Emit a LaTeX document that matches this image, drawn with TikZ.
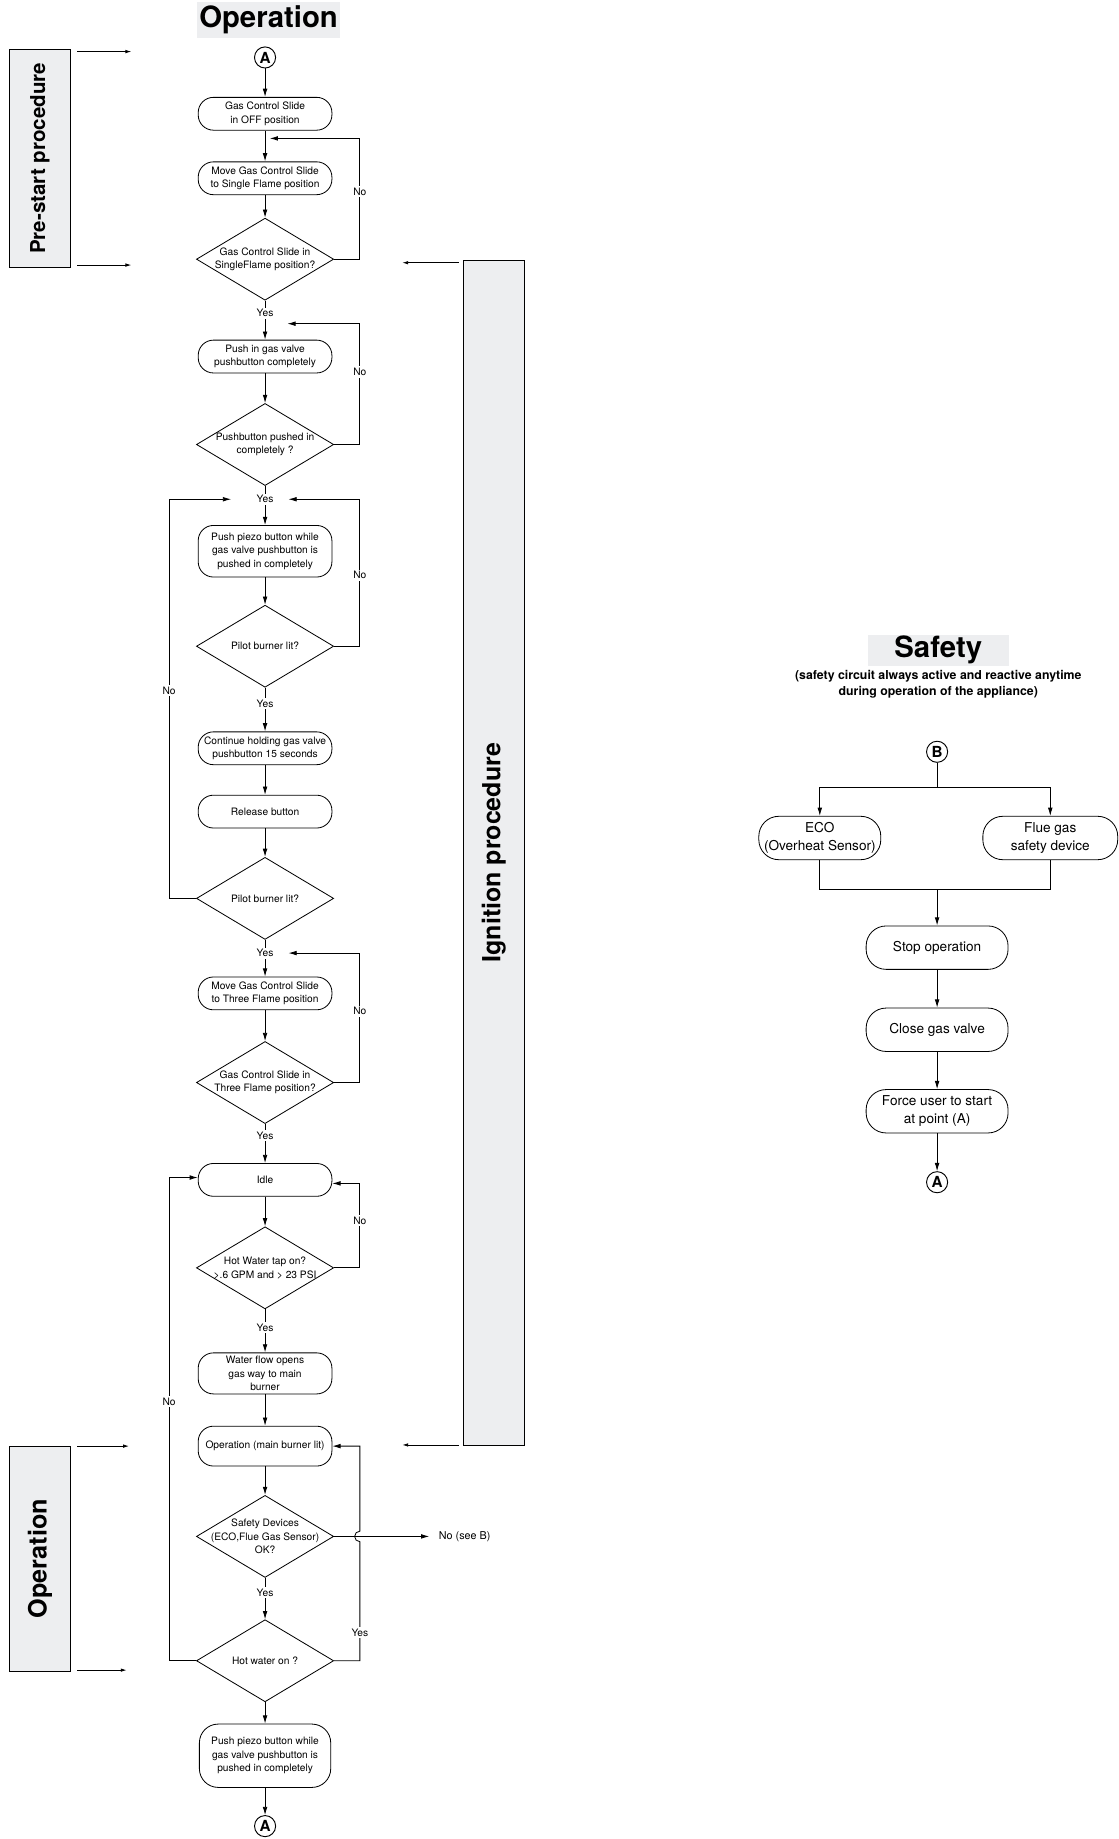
\documentclass[tikz,border=0pt]{standalone}
\usepackage{fontspec}
\setmainfont{TeX Gyre Heros}
\usetikzlibrary{shapes.geometric}
\usetikzlibrary{arrows.meta}
\usetikzlibrary{calc}
\definecolor{panel-grey}{HTML}{EDEEF0}
\colorlet{phase}{panel-grey}
\newcommand{\flowfont}{\fontsize{8.7}{11.5}\selectfont}
\newcommand{\safefont}{\fontsize{11.6}{15}\selectfont}
\tikzset{
  >={Latex[length=7pt,width=4pt]},
  flow/.style={line width=0.7pt},
  stepbox/.style={draw,line width=0.7pt,rounded corners=13pt,minimum width=114pt,minimum height=28pt,inner xsep=2pt,inner ysep=1pt,align=center,font=\flowfont},
  decision/.style={draw,line width=0.7pt,diamond,aspect=1.67,minimum width=117pt,minimum height=70pt,inner xsep=-18pt,inner ysep=-1pt,align=center,font=\flowfont},
  answer/.style={fill=white,inner sep=1.5pt,font=\flowfont},
  jumper/.style={draw,circle,line width=0.8pt,minimum size=18pt,inner sep=0pt,font=\bfseries\fontsize{13}{13}\selectfont},
  safebox/.style={draw,line width=0.7pt,rounded corners=17pt,minimum height=37pt,inner xsep=3pt,align=center,font=\safefont},
  phase box/.style={draw,fill=phase,line width=0.7pt,rotate=90,inner sep=0pt,minimum height=52pt,font=\bfseries},
  heading/.style={fill=phase,inner sep=0pt,font=\bfseries\fontsize{25}{25}\selectfont}
}
\newcommand{\phasepanel}[4]{%
% grey side panel with rotated title
\node[phase box,minimum width=#3pt] (#1) at (#2) {#4};
}

\begin{document}
\begin{tikzpicture}[x=1pt,y=-1pt]
\useasboundingbox (0,0) rectangle (954,1568);
% headings
\node[heading,minimum width=122pt,minimum height=30pt] (op-title) at (229,17) {Operation};
\node[heading,minimum width=120pt,minimum height=27pt] (safe-title) at (800,554.5) {Safety};
\node[align=center,inner sep=0pt,font=\bfseries\fontsize{10.5}{13}\selectfont] (safe-note) at (800,583.5) {(safety circuit always active and reactive anytime\\during operation of the appliance)};

% side panels
\phasepanel{prestart}{34,135}{186}{\fontsize{17.5}{20}\selectfont Pre-start procedure}
\phasepanel{ignition}{421,727}{1010}{\fontsize{21.3}{24}\selectfont Ignition procedure}
\phasepanel{running}{34,1329}{192}{\fontsize{21.5}{24}\selectfont Operation}
\foreach \nm/\ya/\xa/\xb in {ps1/44/66/112, ps2/226/66/112, ig1/224/391/343, ig2/1232/391/343, op1/1233/66/110, op2/1424/66/108} {
  \coordinate (\nm-s) at (\xa,\ya);
  \coordinate (\nm-e) at (\xb,\ya);
  \draw[flow,-{Latex[length=5pt,width=3pt]}] (\nm-s) -- (\nm-e);
}

% main chart
\node[jumper] (a-top) at (226,49) {A};
\node[stepbox] (b1) at (226,97) {Gas Control Slide\\in OFF position};
\node[stepbox] (b2) at (226,152) {Move Gas Control Slide\\to Single Flame position};
\node[decision] (d1) at (226,221) {Gas Control Slide in\\SingleFlame position?};
\node[stepbox] (b3) at (226,304) {Push in gas valve\\pushbutton completely};
\node[decision] (d2) at (226,379) {Pushbutton pushed in\\completely ?};
\node[stepbox,minimum height=44pt] (b4) at (226,470) {Push piezo button while\\gas valve pushbutton is\\pushed in completely};
\node[decision] (d3) at (226,551) {Pilot burner lit?};
\node[stepbox] (b5) at (226,638) {Continue holding gas valve\\pushbutton 15 seconds};
\node[stepbox] (b6) at (226,692) {Release button};
\node[decision] (d4) at (226,766) {Pilot burner lit?};
\node[stepbox] (b7) at (226,847) {Move Gas Control Slide\\to Three Flame position};
\node[decision] (d5) at (226,923) {Gas Control Slide in\\Three Flame position?};
\node[stepbox] (b8) at (226,1006) {Idle};
\node[decision] (d6) at (226,1081) {Hot Water tap on?\\>.6 GPM and > 23 PSI};
\node[stepbox,minimum height=35pt] (b9) at (226,1171) {Water flow opens\\gas way to main\\burner};
\node[stepbox,minimum height=34pt] (b10) at (226,1233) {Operation (main burner lit)};
\node[decision] (d7) at (226,1310) {Safety Devices\\(ECO,Flue Gas Sensor)\\OK?};
\node[decision] (d8) at (226,1416) {Hot water on ?};
\node[stepbox,minimum width=112pt,minimum height=54pt,rounded corners=16pt] (b11) at (226,1497) {Push piezo button while\\gas valve pushbutton is\\pushed in completely};
\node[jumper] (a-bot) at (226,1557) {A};
\node[answer,fill=none,anchor=west,inner xsep=8pt,font=\fontsize{9.2}{11}\selectfont] (no-b) at (366,1310) {No (see B)};

% straight links
\foreach \from/\to in {a-top/b1, b1/b2, b2/d1, b3/d2, b4/d3, b5/b6, b6/d4, b7/d5, b8/d6, b9/b10, b10/d7, d8/b11, b11/a-bot}
  \draw[flow,->] (\from) -- (\to);
\foreach \from/\to/\p/\nm in {d1/b3/0.32/y1, d2/b4/0.34/y2, d3/b5/0.37/y3, d4/b7/0.36/y4, d5/b8/0.3/y5, d6/b9/0.42/y6, d7/d8/0.35/y7}
  \draw[flow,->] (\from) -- node[answer,pos=\p] (\nm) {Yes} (\to);

% loops back
\coordinate (j1) at (230,118);
\coordinate (j2) at (245,276);
\draw[flow,->] (d1.east) -- ++(22,0) |- node[answer,pos=0.28] (n1) {No} (j1);
\draw[flow,->] (d2.east) -- ++(22,0) |- node[answer,pos=0.30] (n2) {No} (j2);
\draw[flow,->] (d3.east) -- ++(22,0) |- node[answer,pos=0.242] (n3) {No} ([xshift=11pt]y2.east);
\draw[flow,->] (d4.west) -- ++(-23,0) |- node[answer,pos=0.26] (n4) {No} ([xshift=-20pt]y2.west);
\draw[flow,->] (d5.east) -- ++(22,0) |- node[answer,pos=0.275] (n5) {No} ([xshift=11pt]y4.east);
\draw[flow,->] (d6.east) -- ++(22,0) |- node[answer,pos=0.278] (n6) {No} ([yshift=-3pt]b8.east);
\draw[flow,->] (d8.west) -- ++(-23,0) |- node[answer,pos=0.268] (n7) {No} ([yshift=2pt]b8.west);
% jump over the safety exit
\draw[flow,->] (d8.east) -- ++(22,0) -- node[answer,pos=0.236] (yh) {Yes} ++(0,-101.5) arc[start angle=270,end angle=90,radius=4.5pt] |- (b10.east);
\draw[flow,->] (d7.east) -- (no-b.west);

% safety circuit
\node[jumper] (b-in) at (799,641) {B};
\node[safebox,minimum width=104pt] (eco) at (699,714.5) {ECO\\(Overheat Sensor)};
\node[safebox,minimum width=115pt] (flue) at (895.5,714.5) {Flue gas\\safety device};
\node[safebox,minimum width=121pt] (stop) at (799,808) {Stop operation};
\node[safebox,minimum width=121pt] (close) at (799,878) {Close gas valve};
\node[safebox,minimum width=121pt] (force) at (799,947.5) {Force user to start\\at point (A)};
\node[jumper] (a-safe) at (799,1008) {A};
\coordinate (split) at (799,671);
\coordinate (merge) at (799,758);
\draw[flow] (b-in) -- (split);
\draw[flow,->] (split) -| (eco);
\draw[flow,->] (split) -| (flue);
\draw[flow] (eco) |- (merge);
\draw[flow] (flue) |- (merge);
\draw[flow,->] (merge) -- (stop);
\foreach \from/\to in {stop/close, close/force, force/a-safe}
  \draw[flow,->] (\from) -- (\to);
\end{tikzpicture}
\end{document}
